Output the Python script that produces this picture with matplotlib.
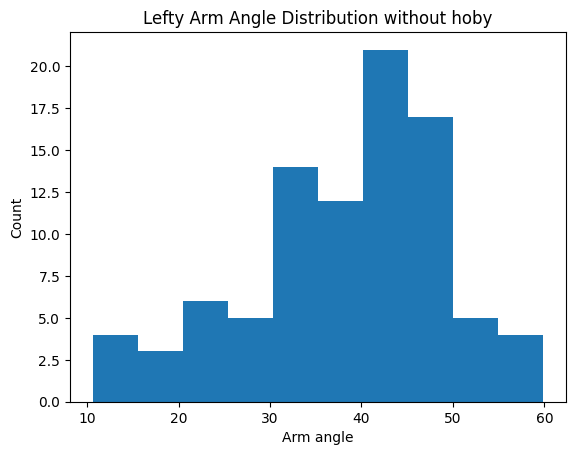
import numpy as np
import matplotlib
matplotlib.use("Agg")
import matplotlib.pyplot as plt

# histogram: bin edges and counts
bin_edges = [10.6, 15.53, 20.46, 25.39, 30.32, 35.25, 40.18, 45.11, 50.04, 54.97, 59.9]
counts = [4, 3, 6, 5, 14, 12, 21, 17, 5, 4]

centers = [(a + b) / 2 for a, b in zip(bin_edges[:-1], bin_edges[1:])]

fig, ax = plt.subplots(figsize=(6.4, 4.8))
ax.hist(centers, bins=bin_edges, weights=counts)
ax.set_title('Lefty Arm Angle Distribution without hoby')
ax.set_xlabel('Arm angle')
ax.set_ylabel('Count')

plt.savefig('out.png', bbox_inches='tight')
